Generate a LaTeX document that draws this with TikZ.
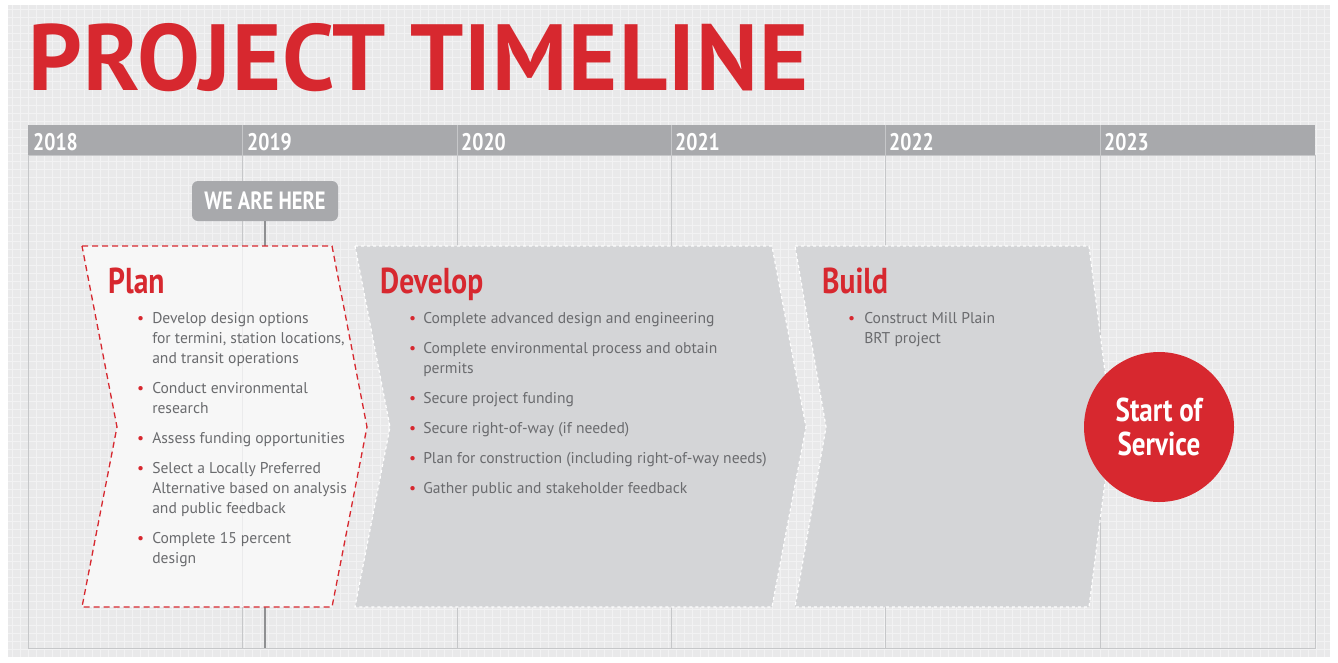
\documentclass[tikz,border=0pt]{standalone}
\usepackage{fontspec}
\setmainfont{PT Sans}
\newfontfamily\condfont{PT Sans}[FakeStretch=0.82]
\newfontfamily\titlefont{PT Sans}[LetterSpace=1.2]
\usetikzlibrary{positioning}

\definecolor{tlred}{HTML}{D7282F}
\definecolor{bargray}{HTML}{A8A9AC}
\definecolor{panelgray}{HTML}{D4D5D7}
\definecolor{textgray}{HTML}{6A6B6E}
\definecolor{paper}{HTML}{E9E9EA}
\definecolor{paperline}{HTML}{F2F2F3}
\definecolor{yearline}{HTML}{C6C7C9}

\newcommand{\bul}{\textcolor{tlred}{\textbullet}}

\tikzset{
  yearlabel/.style={text=white, font=\condfont\bfseries\fontsize{24}{24}\selectfont, anchor=base west, inner sep=0pt},
  heading/.style={text=tlred, font=\condfont\bfseries\fontsize{36}{36}\selectfont, anchor=base west, inner sep=0pt},
  items/.style={text=textgray, font=\fontsize{15.6}{20}\selectfont, anchor=north west, inner sep=0pt},
  phasebox/.style={fill=panelgray, draw=white, dashed, line width=1.2pt},
}

\begin{document}
\begin{tikzpicture}[x=1pt, y=-1pt]
  \useasboundingbox (0,0) rectangle (1338,662);
  \fill[white] (0,0) rectangle (1338,662);
  \fill[paper] (8,5) rectangle (1330,657);

  % graph paper
  \foreach \x in {12,20,...,1326}
    \draw[paperline, line width=0.5pt] (\x,5) -- (\x,657);
  \foreach \y in {9,17,...,653}
    \draw[paperline, line width=0.5pt] (8,\y) -- (1330,\y);

  \node[text=tlred, font=\titlefont\bfseries\fontsize{94}{94}\selectfont, anchor=base west, inner sep=0pt] (title) at (28,90) {PROJECT TIMELINE};

  % year bar
  \fill[bargray] (28,125) rectangle (1315,155);
  \draw[yearline, line width=0.6pt] (28,155) rectangle (1315,648);
  \foreach \x in {242,457,671,885,1100}
    \draw[yearline, line width=0.8pt] (\x,125) -- (\x,648);

  \node[yearlabel] (y2018) at (33,150) {2018};
  \node[yearlabel] (y2019) at (247,150) {2019};
  \node[yearlabel] (y2020) at (461,150) {2020};
  \node[yearlabel] (y2021) at (675,150) {2021};
  \node[yearlabel] (y2022) at (889,150) {2022};
  \node[yearlabel] (y2023) at (1104,150) {2023};

  % we are here
  \node[fill=bargray, rounded corners=6pt, minimum width=146pt, minimum height=40pt, inner sep=0pt,
        text=white, font=\condfont\bfseries\fontsize{25}{25}\selectfont] (here) at (265,201) {WE ARE HERE};
  \coordinate (herebottom) at (265,648);
  \draw[bargray!85!black, line width=2.5pt] (here) -- (herebottom);

  % phases
  \draw[fill=white!97!black, draw=tlred, dash pattern=on 6pt off 4pt, line width=1.3pt]
    (82,246) -- (332,246) -- (367,427) -- (332,607) -- (82,607) -- (117,427) -- cycle;
  \draw[yearline!35!white, line width=0.8pt] (242,247) -- (242,606);
  \draw[phasebox] (355,246) -- (772,246) -- (806,427) -- (772,607) -- (355,607) -- (390,427) -- cycle;
  \draw[phasebox] (795,246) -- (1089,246) -- (1112,427) -- (1089,607) -- (795,607) -- (826,427) -- cycle;

  \node[heading] (plan) at (108,293) {Plan};
  \node[heading] (develop) at (380,293) {Develop};
  \node[heading] (build) at (822,293) {Build};

  \node[items] (planlist) at (137,309) {%
    \begin{tabular}{@{}l@{\hspace{8pt}}l@{}}
    \bul & Develop design options\\
         & for termini, station locations,\\
         & and transit operations\\[10pt]
    \bul & Conduct environmental\\
         & research\\[10pt]
    \bul & Assess funding opportunities\\[10pt]
    \bul & Select a Locally Preferred\\
         & Alternative based on analysis\\
         & and public feedback\\[10pt]
    \bul & Complete 15 percent\\
         & design
    \end{tabular}};

  \node[items] (devlist) at (409,309) {%
    \begin{tabular}{@{}l@{\hspace{7pt}}l@{}}
    \bul & Complete advanced design and engineering\\[10pt]
    \bul & Complete environmental process and obtain\\
         & permits\\[10pt]
    \bul & Secure project funding\\[10pt]
    \bul & Secure right-of-way (if needed)\\[10pt]
    \bul & Plan for construction (including right-of-way needs)\\[10pt]
    \bul & Gather public and stakeholder feedback
    \end{tabular}};

  \node[items] (buildlist) at (848,309) {%
    \begin{tabular}{@{}l@{\hspace{9pt}}l@{}}
    \bul & Construct Mill Plain\\
         & BRT project
    \end{tabular}};

  \node[circle, fill=tlred, minimum size=150pt, inner sep=0pt, align=center, text=white,
        font=\condfont\bfseries\fontsize{33}{34}\selectfont] (service) at (1159,427) {Start of\\Service};
\end{tikzpicture}
\end{document}
